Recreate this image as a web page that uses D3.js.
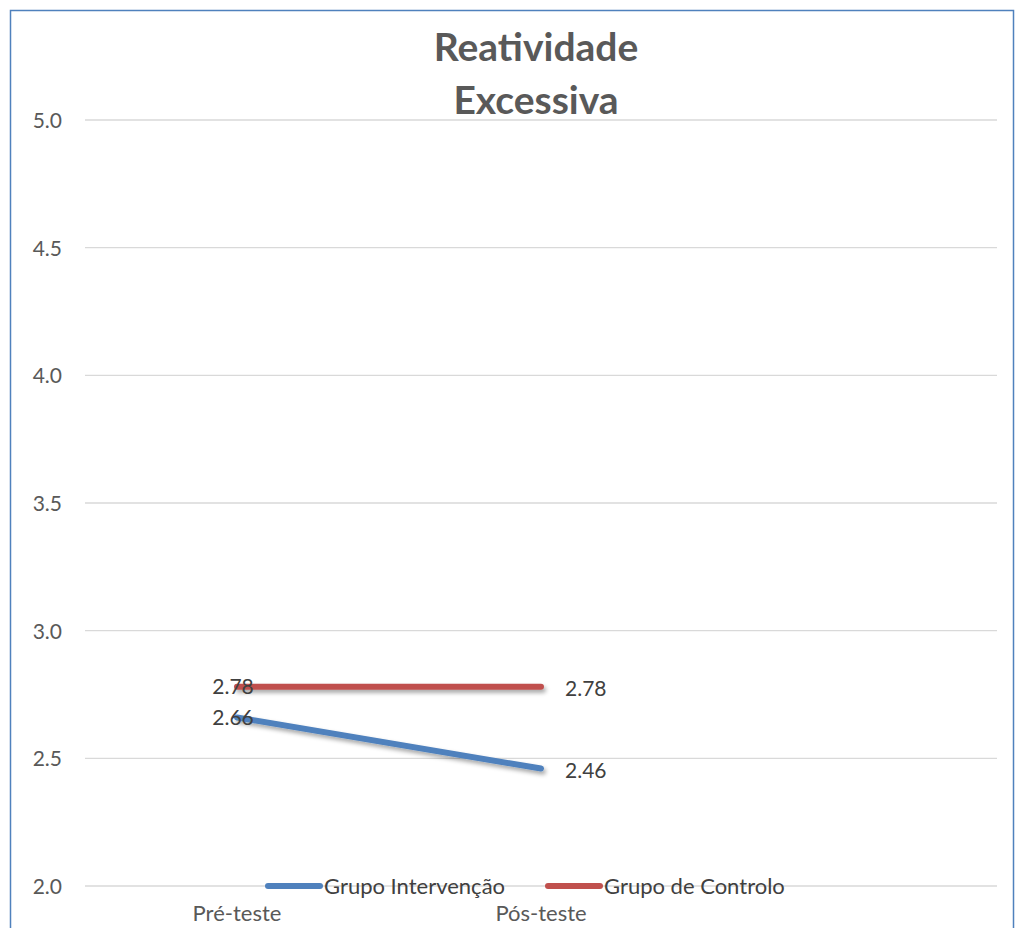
<!DOCTYPE html>
<html><head><meta charset="utf-8">
<script src="https://cdn.jsdelivr.net/npm/d3@7"></script>
<style>body{margin:0;background:#fff}svg{display:block}text{font-family:Lato,"Open Sans",sans-serif}</style>
</head><body>
<svg id="c" width="1017" height="928"></svg>
<script>
(function(){
const categories = ["Pré-teste", "Pós-teste", ""];
const seriesNames = ["Grupo Intervenção", "Grupo de Controlo"];
const intervencao = [2.66, 2.46];
const controlo = [2.78, 2.78];
const yTicks = [2.0, 2.5, 3.0, 3.5, 4.0, 4.5, 5.0];
const colors = ["#4f81bd", "#c0504d"];
const titleLines = ["Reatividade", "Excessiva"];

const svg = d3.select("#c");
const mLeft = 85, mRight = 997, mTop = 120, mBottom = 886;

const defs = svg.append("defs");
const f = defs.append("filter").attr("id","sh").attr("filterUnits","userSpaceOnUse")
  .attr("x",0).attr("y",0).attr("width",1017).attr("height",928);
f.append("feDropShadow").attr("dx",2).attr("dy",3).attr("stdDeviation",2).attr("flood-color","#000").attr("flood-opacity",0.35);

svg.append("rect").attr("x",10.5).attr("y",10.5).attr("width",1003).attr("height",1000)
  .attr("fill","#fff").attr("stroke","#4f81bd").attr("stroke-width",1.5);

const x = d3.scaleBand().domain(categories).range([mLeft, mRight]);
const y = d3.scaleLinear().domain([2, 5]).range([mBottom, mTop]);
const cx = c => x(c) + x.bandwidth()/2;

svg.append("g").selectAll("line").data(yTicks).join("line")
  .attr("x1", mLeft).attr("x2", mRight).attr("y1", d=>y(d)).attr("y2", d=>y(d))
  .attr("stroke","#d9d9d9").attr("stroke-width",1.3);

const yAxis = d3.axisLeft(y).tickValues(yTicks).tickFormat(d3.format(".1f")).tickSize(0).tickPadding(0);
const ga = svg.append("g").attr("transform", `translate(62,0)`).call(yAxis);
ga.select(".domain").remove();
ga.selectAll("text").attr("fill","#595959").attr("font-size",21).attr("dy","0.35em").attr("font-family","Lato,'Open Sans',sans-serif");

const xAxis = d3.axisBottom(x).tickSize(0).tickPadding(0);
const gx = svg.append("g").attr("transform", `translate(0,${mBottom+27})`).call(xAxis);
gx.select(".domain").remove();
gx.selectAll("text").attr("fill","#595959").attr("font-size",22).attr("dy","0.35em").attr("font-family","Lato,'Open Sans',sans-serif");

svg.append("g").selectAll("text").data(titleLines).join("text")
  .attr("x", 536).attr("y",(d,i)=>47+i*53).attr("dy","0.35em").attr("text-anchor","middle")
  .attr("font-size",39).attr("font-weight","bold").attr("fill","#595959").text(d=>d);

const series = [intervencao, controlo];
const line = d3.line().x((d,i)=>cx(categories[i])).y(d=>y(d));
series.forEach((s,k)=>{
  svg.append("path").datum(s).attr("d", line).attr("fill","none")
    .attr("stroke", colors[k]).attr("stroke-width",6).attr("stroke-linecap","round")
    .attr("filter","url(#sh)");
});

series.forEach((s,k)=>{
  svg.append("g").selectAll("text").data(s).join("text")
    .attr("x",(d,i)=> i===0 ? cx(categories[i]) - 4 : cx(categories[i]) + 24)
    .attr("y",(d,i)=> y(d) + (i===0 ? 0 : 2))
    .attr("dy","0.35em")
    .attr("text-anchor",(d,i)=> i===0 ? "middle" : "start")
    .attr("font-size",21).attr("fill","#404040")
    .text(d=>d.toFixed(2));
});

const leg = [{x:268, name:seriesNames[0], c:colors[0]}, {x:548, name:seriesNames[1], c:colors[1]}];
const lg = svg.append("g").selectAll("g").data(leg).join("g").attr("transform",d=>`translate(${d.x},${mBottom})`);
lg.append("line").attr("x1",0).attr("x2",52).attr("y1",0).attr("y2",0)
  .attr("stroke",d=>d.c).attr("stroke-width",6).attr("stroke-linecap","round");
lg.append("text").attr("x",56).attr("y",0).attr("dy","0.35em").attr("font-size",22).attr("fill","#404040").text(d=>d.name);
})();
</script>
</body></html>
